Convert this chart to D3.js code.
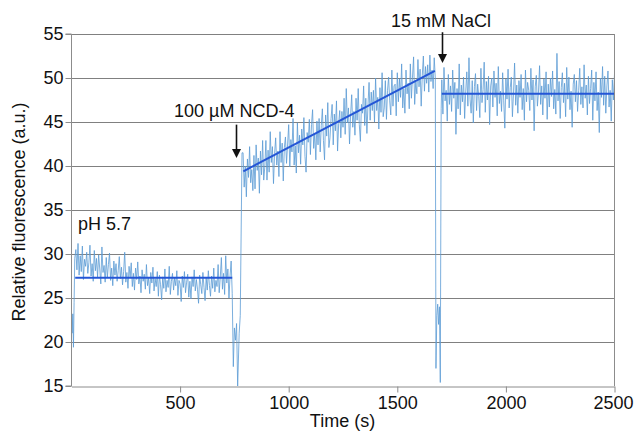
<!DOCTYPE html>
<html><head><meta charset="utf-8">
<script src="https://cdn.jsdelivr.net/npm/d3@7"></script>
<style>html,body{margin:0;padding:0;background:#fff;} svg{display:block;font-family:"Liberation Sans",Arial,sans-serif;}</style>
</head><body>
<svg id="c" width="635" height="431"></svg>
<script>
// ---- data (time in s, relative fluorescence in a.u.) ----
const xTicks = [500, 1000, 1500, 2000, 2500];
const yTicks = [15, 20, 25, 30, 35, 40, 45, 50, 55];
const sampleStep = 5;

// initial transient
const startT = [0, 3, 6, 9, 12, 15];
const startV = [22.8, 21.0, 23.2, 19.4, 24.5, 29.5];

// pH 5.7 baseline, from t = 20 s
const seg1Start = 20;
const seg1 = [
30.5,28.2,31.2,27.6,29.8,28.0,30.9,27.1,29.4,28.6,
30.2,27.8,29.0,31.0,27.5,28.9,26.9,30.4,28.1,29.5,
27.4,29.9,28.3,26.6,30.8,27.9,28.7,26.8,29.6,27.3,
28.8,30.1,27.0,28.4,26.4,29.2,27.6,28.9,26.9,28.1,
29.7,27.2,28.5,26.5,28.0,30.2,26.8,27.9,26.1,28.6,
27.4,29.0,26.3,27.8,25.9,28.4,27.1,29.1,26.6,27.5,
25.6,28.2,26.9,27.7,26.0,28.8,26.4,27.3,25.5,27.9,
26.7,28.5,25.8,27.2,26.3,28.0,25.2,27.6,26.5,24.8,
27.4,26.1,28.3,25.7,27.0,26.2,28.6,25.4,26.9,27.8,
25.9,27.3,26.4,28.1,25.3,27.0,26.6,24.6,27.5,26.2,
28.0,25.6,26.8,27.7,25.1,26.9,24.9,27.4,26.3,28.2,
25.8,27.1,26.0,24.4,27.6,26.5,25.5,27.9,26.2,24.7,
27.3,25.9,28.1,26.4,25.2,27.5,26.1,28.4,25.7,27.0,
26.3,28.8,25.6,27.4,29.6,26.0,27.8,25.4,29.8,26.7,
28.3,25.0,27.5,29.2,25.5];

// transient at NCD-4 addition
const trans1T = [745, 750, 755, 760, 765, 772, 777, 785];
const trans1V = [17.2, 21.6, 20.2, 22.1, 15.0, 21.0, 23.0, 41.5];

// after 100 µM NCD-4, from t = 790 s
const seg2Start = 790;
const seg2 = [
41.5,37.6,40.0,36.5,40.8,38.7,42.2,38.1,39.6,37.2,
41.2,37.4,42.4,39.5,40.9,36.9,41.7,39.0,42.9,38.4,
39.9,42.9,38.4,41.8,39.3,43.9,40.4,42.2,38.0,41.4,
43.2,40.1,41.7,38.8,43.9,40.4,42.6,38.3,42.1,43.3,
40.3,42.5,44.7,39.9,43.0,41.6,45.4,40.1,42.3,39.2,
44.9,41.5,43.5,40.2,44.2,42.4,45.5,41.1,39.3,43.8,
42.7,45.3,41.3,44.7,46.4,42.0,43.7,40.7,45.1,42.4,
45.4,41.6,44.6,46.5,42.9,40.7,45.8,43.4,47.2,42.1,
43.2,45.4,47.0,42.4,45.9,44.0,47.4,41.7,44.8,46.3,
43.2,46.2,44.4,47.7,43.6,48.8,44.9,46.6,42.5,45.8,
48.1,44.4,46.2,43.5,47.7,45.2,48.8,44.7,42.8,47.0,
46.0,49.1,44.6,47.7,43.7,46.9,49.5,45.2,48.4,46.3,
48.6,45.0,50.0,46.3,47.8,44.2,48.9,46.1,50.6,45.6,
46.6,49.7,45.3,48.6,50.1,47.4,45.8,50.9,46.8,49.1,
49.3,45.7,50.6,47.3,49.9,47.8,51.6,46.6,48.8,46.0,
50.9,48.2,49.4,46.5,51.6,47.7,50.1,52.4,47.0,49.6,
48.2,52.1,49.0,51.0,46.8,50.3,52.5,48.5,51.3,49.4,
51.5,48.4,52.6,49.6,50.9,48.8,52.3,50.0];

// transient at NaCl addition
const trans2T = [1678, 1682, 1686, 1690, 1694, 1698, 1702];
const trans2V = [17.0, 23.0, 24.3, 22.0, 24.0, 15.4, 46.5];

// after 15 mM NaCl, from t = 1705 s
const seg3Start = 1705;
const seg3 = [
49.8,45.9,51.2,47.4,48.6,45.1,50.4,47.0,49.1,46.2,
50.9,47.7,49.5,43.6,48.8,46.5,51.6,45.8,49.2,47.3,
50.1,45.4,48.4,50.7,46.8,52.3,47.6,46.0,49.7,44.9,
49.0,50.5,46.3,49.3,47.9,45.5,51.1,47.2,48.7,51.8,
46.1,49.6,47.5,50.2,44.7,49.1,50.0,46.7,50.8,47.8,
49.4,45.7,51.3,47.1,48.5,46.2,50.6,47.4,44.3,49.9,
47.6,51.0,46.6,48.9,50.1,45.6,48.3,51.7,46.9,49.2,
46.0,49.7,47.8,50.4,46.4,48.8,45.2,50.9,47.3,49.5,
48.6,46.3,51.1,47.5,49.8,44.0,49.0,50.3,46.8,48.4,
51.4,47.0,49.1,45.8,49.9,47.7,50.7,45.3,49.3,46.7,
50.0,47.9,50.8,46.5,48.7,45.9,52.8,47.4,49.6,45.4,
48.9,50.6,47.2,49.4,45.6,51.2,47.6,50.1,46.4,48.5,
44.4,49.3,50.4,47.3,49.7,46.2,48.6,51.1,47.0,49.0,
46.6,51.5,47.7,49.2,45.8,50.2,47.1,48.8,50.9,45.2,
49.5,47.4,50.7,46.3,48.4,43.8,50.0,47.8,51.3,46.9,
50.2,46.0,49.1,50.8,46.7,48.6,45.1,49.8,47.5,50.5];

// fitted lines
const fitT = [[17, 740], [791, 1673], [1705, 2500]];
const fitV = [[27.3, 27.3], [39.4, 50.8], [48.2, 48.2]];

// annotations
const labels = ["pH 5.7", "100 µM NCD-4", "15 mM NaCl"];

// ---- build trace ----
const trace = [];
startT.forEach((t, i) => trace.push([t, startV[i]]));
seg1.forEach((v, i) => trace.push([seg1Start + i * sampleStep, v]));
trans1T.forEach((t, i) => trace.push([t, trans1V[i]]));
seg2.forEach((v, i) => trace.push([seg2Start + i * sampleStep, v]));
trans2T.forEach((t, i) => trace.push([t, trans2V[i]]));
seg3.forEach((v, i) => trace.push([seg3Start + i * sampleStep, v]));

// ---- drawing ----
const svg = d3.select("#c");
const L = 71, R = 614, T = 34, B = 386;
const x = d3.scaleLinear().domain([0, 2500]).range([L + 0.5, R + 0.5]);
const y = d3.scaleLinear().domain([15, 55]).range([B, T]);

svg.append("defs").append("clipPath").attr("id", "clip")
  .append("rect").attr("x", L).attr("y", T - 2).attr("width", R - L).attr("height", B - T + 2);

// gridlines
svg.append("g").selectAll("line").data(yTicks.filter(d => d > 15)).join("line")
  .attr("x1", L).attr("x2", R).attr("y1", d => Math.round(y(d)) + 0.5).attr("y2", d => Math.round(y(d)) + 0.5)
  .attr("stroke", "#808080").attr("stroke-width", 1);

// trace
const line = d3.line().x(d => x(d[0])).y(d => y(d[1]));
svg.append("path").datum(trace).attr("clip-path", "url(#clip)")
  .attr("d", line).attr("fill", "none").attr("stroke", "#5b9bd5")
  .attr("stroke-opacity", 0.8).attr("stroke-width", 1).attr("stroke-linejoin", "round");

// fit lines
fitT.forEach((ts, i) => {
  svg.append("path").datum(ts.map((t, j) => [t, fitV[i][j]]))
    .attr("d", line).attr("fill", "none").attr("stroke", "#2456d6").attr("stroke-width", 2);
});

// right border
svg.append("line").attr("x1", R + 0.5).attr("x2", R + 0.5).attr("y1", T).attr("y2", B)
  .attr("stroke", "#8c8c8c").attr("stroke-width", 1);

// axes
const yAxis = d3.axisLeft(y).tickValues(yTicks).tickSize(6).tickPadding(2).tickFormat(d3.format("d"));
const gy = svg.append("g").attr("transform", `translate(${L + 0.5},0)`).call(yAxis);
const xAxis = d3.axisBottom(x).tickValues(xTicks).tickSize(6).tickPadding(4).tickSizeOuter(0).tickFormat(d3.format("d"));
const gx = svg.append("g").attr("transform", `translate(0,${B + 0.5})`).call(xAxis);
[gx, gy].forEach(g => {
  g.select(".domain").attr("stroke", "#8c8c8c");
  g.selectAll(".tick line").attr("stroke", "#8c8c8c");
  g.selectAll(".tick text").attr("font-size", 18).attr("fill", "#111")
    .attr("font-family", "'Liberation Sans', Arial, sans-serif");
});
gx.selectAll(".tick text").filter(d => d === 2500).attr("dx", -1.5);
gy.select(".domain").attr("d", `M-6,${T}H0V${B}H-6`);

// axis titles
svg.append("text").attr("transform", `translate(25,${(T + B) / 2 + 2}) rotate(-90)`)
  .attr("text-anchor", "middle").attr("font-size", 18).attr("fill", "#111")
  .text("Relative fluorescence (a.u.)");
svg.append("text").attr("x", (L + R) / 2).attr("y", 427).attr("text-anchor", "middle")
  .attr("font-size", 18).attr("fill", "#111").text("Time (s)");

// annotations
svg.append("text").attr("x", 78).attr("y", 230).attr("font-size", 18).attr("fill", "#111").text(labels[0]);
svg.append("text").attr("x", 174).attr("y", 117).attr("font-size", 18).attr("fill", "#111").text(labels[1]);
svg.append("text").attr("x", 391).attr("y", 27).attr("font-size", 18).attr("fill", "#111").text(labels[2]);

function arrow(t, v0, v1) {
  const ax = Math.round(x(t)) + 0.5, y0 = y(v0), y1 = y(v1);
  svg.append("line").attr("x1", ax).attr("x2", ax).attr("y1", y0).attr("y2", y1 - 6)
    .attr("stroke", "#111").attr("stroke-width", 1.6);
  svg.append("path").attr("d", `M${ax - 4.5},${y1 - 9}L${ax + 4.5},${y1 - 9}L${ax},${y1}Z`).attr("fill", "#111");
}
arrow(757, 44.7, 40.9);
arrow(1704, 55.2, 51.7);
</script>
</body></html>
